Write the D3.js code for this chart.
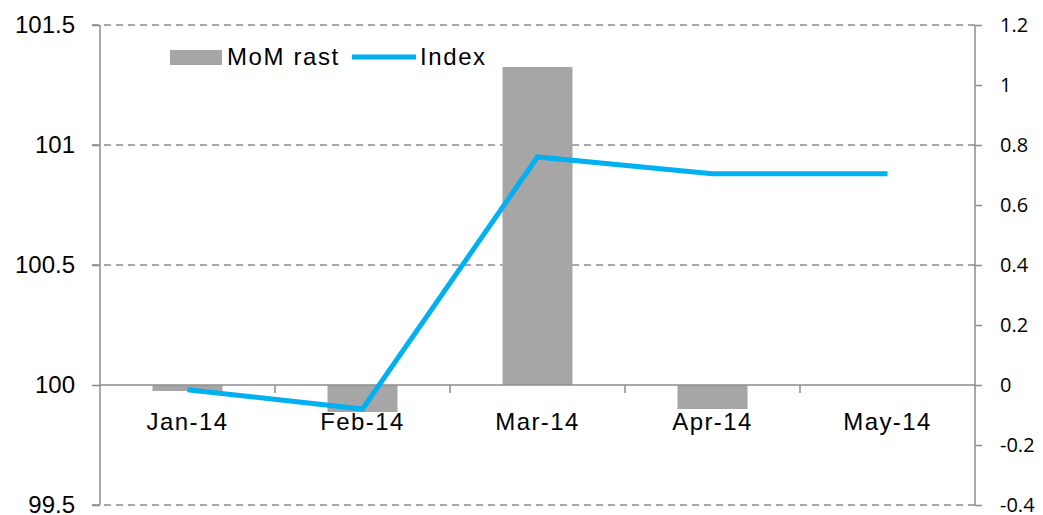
<!DOCTYPE html>
<html>
<head>
	<meta charset="utf-8">
	<script src="https://cdnjs.cloudflare.com/ajax/libs/d3/7.8.5/d3.min.js"></script>
	<style>
		body { margin: 0; background: #fff; }
	</style>
</head>
<body>
	<script type="text/javascript">

		// data
		let months = ['Jan-14', 'Feb-14', 'Mar-14', 'Apr-14', 'May-14'];
		let momRast = [-0.02, -0.09, 1.06, -0.08, 0];
		let indexVals = [99.98, 99.9, 100.95, 100.88, 100.88];
		let leftTicks = [99.5, 100, 100.5, 101, 101.5];
		let rightTicks = [-0.4, -0.2, 0, 0.2, 0.4, 0.6, 0.8, 1, 1.2];

		let width = 1043, height = 515;
		let plotLeft = 100, plotRight = 975, plotTop = 25, plotBottom = 505;
		let axisColor = '#8c8c8c';
		let sans = '"Liberation Sans", Arial, sans-serif';

		let svg = d3.select('body').append('svg')
			.attr('width', width)
			.attr('height', height);

		let x = d3.scaleBand().domain(months).range([plotLeft, plotRight]).paddingInner(0).paddingOuter(0);
		let yL = d3.scaleLinear().domain([99.5, 101.5]).range([plotBottom, plotTop]);
		let yR = d3.scaleLinear().domain([-0.4, 1.2]).range([plotBottom, plotTop]);

		// dashed gridlines (not at 100, that is the solid category axis)
		svg.selectAll('line.grid').data(leftTicks.filter(d => d !== 100)).enter().append('line')
			.attr('class', 'grid')
			.attr('x1', plotLeft - 8).attr('x2', plotRight)
			.attr('y1', d => yL(d)).attr('y2', d => yL(d))
			.attr('stroke', axisColor)
			.attr('stroke-width', 1.5)
			.attr('stroke-dasharray', '7,5');

		// bars
		svg.selectAll('rect.bar').data(momRast).enter().append('rect')
			.attr('class', 'bar')
			.attr('x', (d, i) => x(months[i]) + x.bandwidth() * 0.3)
			.attr('width', x.bandwidth() * 0.4)
			.attr('y', d => Math.min(yR(d), yR(0)))
			.attr('height', d => Math.abs(yR(d) - yR(0)))
			.attr('fill', '#a6a6a6');

		// left axis
		let leftAxis = d3.axisLeft(yL).tickValues(leftTicks).tickSize(8).tickPadding(17)
			.tickFormat(d => String(d));
		let gL = svg.append('g').attr('transform', `translate(${plotLeft},0)`).call(leftAxis);
		gL.select('.domain').remove();
		gL.append('line').attr('x1', 0).attr('x2', 0).attr('y1', plotTop).attr('y2', plotBottom)
			.attr('stroke', axisColor).attr('stroke-width', 1.5);
		gL.selectAll('.tick line').attr('stroke', axisColor).attr('stroke-width', 1.5);
		gL.selectAll('.tick text')
			.attr('font-family', sans)
			.attr('font-size', 24).attr('fill', '#000').attr('dy', '0.3em');

		// right axis
		let rightAxis = d3.axisRight(yR).tickValues(rightTicks).tickSize(7).tickPadding(18)
			.tickFormat(d => String(Math.round(d * 10) / 10));
		let gR = svg.append('g').attr('transform', `translate(${plotRight},0)`).call(rightAxis);
		gR.select('.domain').remove();
		gR.append('line').attr('x1', 0).attr('x2', 0).attr('y1', plotTop).attr('y2', plotBottom)
			.attr('stroke', axisColor).attr('stroke-width', 1.5);
		gR.selectAll('.tick line').attr('stroke', axisColor).attr('stroke-width', 1.5);
		gR.selectAll('.tick text')
			.attr('font-family', '"Open Sans", "Noto Sans", sans-serif')
			.attr('font-size', 20).attr('fill', '#000').attr('dy', '0.3em');

		// category axis at zero / 100
		let boundaries = months.slice(1).map(m => x(m));
		svg.append('line')
			.attr('x1', plotLeft).attr('x2', plotRight)
			.attr('y1', yR(0)).attr('y2', yR(0))
			.attr('stroke', axisColor).attr('stroke-width', 1.5);
		svg.selectAll('line.ctick').data(boundaries).enter().append('line')
			.attr('class', 'ctick')
			.attr('x1', d => d).attr('x2', d => d)
			.attr('y1', yR(0)).attr('y2', yR(0) + 8)
			.attr('stroke', axisColor).attr('stroke-width', 1.5);
		svg.selectAll('text.clabel').data(months).enter().append('text')
			.attr('class', 'clabel')
			.attr('x', d => x(d) + x.bandwidth() / 2)
			.attr('y', yR(0) + 45)
			.attr('text-anchor', 'middle')
			.attr('font-family', sans)
			.attr('font-size', 24)
			.attr('letter-spacing', 1.4)
			.text(d => d);

		// index line
		let line = d3.line()
			.x((d, i) => x(months[i]) + x.bandwidth() / 2)
			.y(d => yL(d));
		svg.append('path').datum(indexVals)
			.attr('d', line)
			.attr('fill', 'none')
			.attr('stroke', '#00b0f0')
			.attr('stroke-width', 5)
			.attr('stroke-linejoin', 'miter');

		// legend
		let lg = svg.append('g');
		lg.append('rect').attr('x', 170).attr('y', 50).attr('width', 52).attr('height', 15).attr('fill', '#a6a6a6');
		lg.append('text').attr('x', 227).attr('y', 65)
			.attr('font-family', sans).attr('font-size', 24).attr('letter-spacing', 1.6)
			.text('MoM rast');
		lg.append('line').attr('x1', 352).attr('x2', 416).attr('y1', 57).attr('y2', 57)
			.attr('stroke', '#00b0f0').attr('stroke-width', 5);
		lg.append('text').attr('x', 420).attr('y', 65)
			.attr('font-family', sans).attr('font-size', 24).attr('letter-spacing', 1.6)
			.text('Index');

	</script>
</body>
</html>
